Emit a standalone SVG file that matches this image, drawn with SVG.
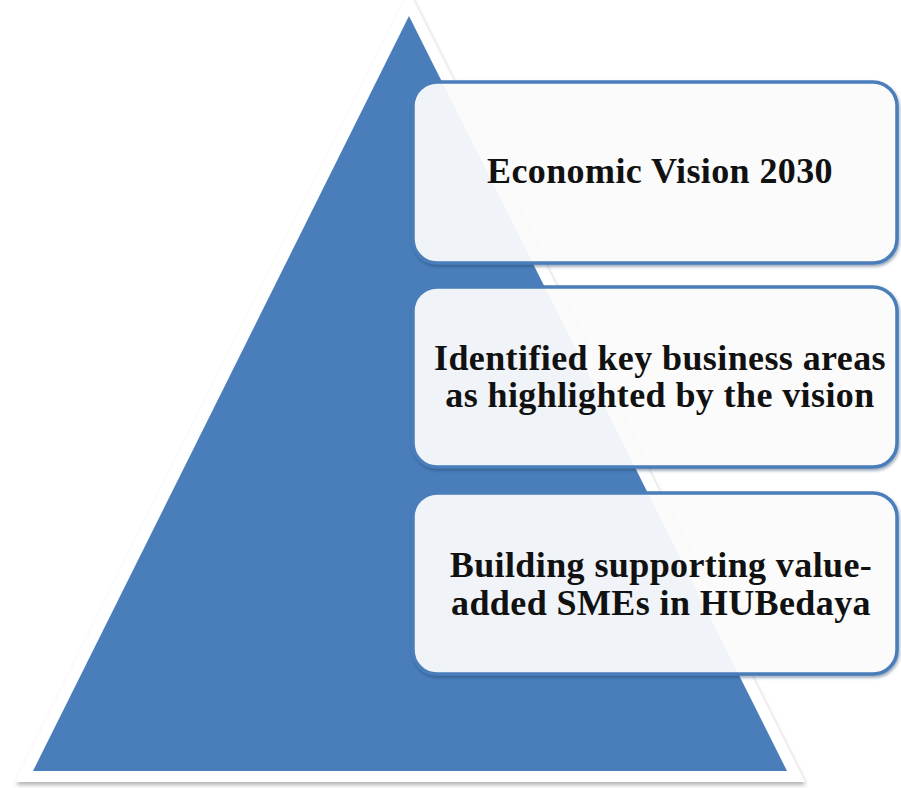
<svg xmlns="http://www.w3.org/2000/svg" width="901" height="788" viewBox="0 0 901 788">
<defs>
<filter id="sh" x="-10%" y="-10%" width="120%" height="120%">
<feDropShadow dx="1" dy="3" stdDeviation="2" flood-color="#000" flood-opacity="0.3"/>
</filter>
<filter id="bsh" x="-5%" y="-5%" width="110%" height="115%">
<feDropShadow dx="1" dy="2" stdDeviation="1.5" flood-color="#1f3a5f" flood-opacity="0.45"/>
</filter>
<style>
.box{fill:#ffffff;fill-opacity:0.9;stroke:#4a7ebb;stroke-width:3.5;filter:url(#bsh)}
.lbl{font-family:"Liberation Serif","Times New Roman",serif;font-weight:bold;font-size:36px;letter-spacing:0.4px;fill:#111;text-anchor:middle}
</style>
</defs>
<rect width="901" height="788" fill="#ffffff"/>
<g id="pyramid">
<polygon points="409,16 33,771 787,771" fill="#ffffff" stroke="#ffffff" stroke-width="22" stroke-linejoin="miter" filter="url(#sh)"/>
<polygon points="409,16 33,771 787,771" fill="#4a7ebb"/>
</g>
<g id="box1">
<rect class="box" x="413" y="82" width="484" height="181" rx="24"/>
<text class="lbl" x="660" y="183">Economic Vision 2030</text>
</g>
<g id="box2">
<rect class="box" x="413" y="287" width="484" height="180" rx="24"/>
<text class="lbl" x="660" y="370">Identified key business areas</text>
<text class="lbl" x="660" y="407">as highlighted by the vision</text>
</g>
<g id="box3">
<rect class="box" x="413" y="493" width="484" height="181" rx="24"/>
<text class="lbl" x="661" y="577">Building supporting value-</text>
<text class="lbl" x="661" y="615">added SMEs in HUBedaya</text>
</g>
<g id="connectors"></g>
</svg>
